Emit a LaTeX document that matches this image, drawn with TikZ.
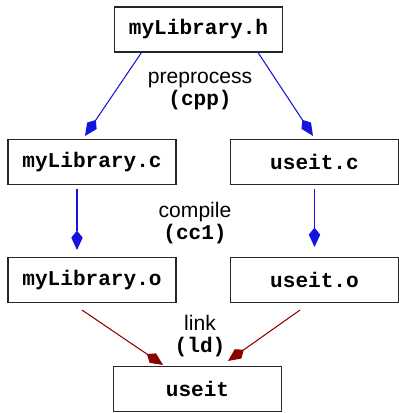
\documentclass[tikz,border=0pt]{standalone}
\usepackage{fontspec}
\setmainfont{Liberation Sans}
\setmonofont{Liberation Mono}
\usepackage{xcolor}
\usepackage{tikz}
\usetikzlibrary{positioning, arrows.meta}

\definecolor{ppblue}{RGB}{20,20,225}
\definecolor{linkred}{RGB}{140,0,0}

\begin{document}
\begin{tikzpicture}[
        every node/.style={font=\fontsize{12}{14}\selectfont},
        filebox/.style={draw=black!85, line width=0.6pt, minimum height=0.9cm, minimum width=3.36cm, align=center, font=\fontsize{12}{14}\selectfont\ttfamily\bfseries},
        flow/.style={-{Kite[length=11pt, width=6.5pt, inset=4pt]}, line width=0.6pt, ppblue},
        linkflow/.style={-{Kite[length=11pt, width=6.5pt, inset=4pt]}, line width=0.6pt, linkred},
        steplabel/.style={align=center, inner sep=0pt, font=\fontsize{12}{12.5}\selectfont}
    ]
    \useasboundingbox (0,0) rectangle (7.96,-8.26);

    % Source and object files
    \node[filebox] (libh) at (3.97, -0.59) {myLibrary.h};
    \node[filebox] (libc) at (1.84, -3.24) {myLibrary.c};
    \node[filebox] (usec) at (6.29, -3.24) {useit.c};
    \node[filebox] (libo) at (1.84, -5.60) {myLibrary.o};
    \node[filebox] (useo) at (6.29, -5.60) {useit.o};
    \node[filebox] (exe)  at (3.95, -7.78) {useit};

    % Step labels
    \node[steplabel] (pp)   at (4.00, -1.82) {preprocess\\\texttt{\textbf{(cpp)}}};
    \node[steplabel] (cc)   at (3.90, -4.46) {compile\\\texttt{\textbf{(cc1)}}};
    \node[steplabel] (ld)   at (4.00, -6.72) {link\\\texttt{\textbf{(ld)}}};

    % Preprocess
    \draw[flow] ([xshift=-1.14cm]libh.south) -- ([xshift=-0.14cm, yshift=0.06cm]libc.north);
    \draw[flow] ([xshift=1.19cm]libh.south) -- ([xshift=-0.03cm, yshift=0.06cm]usec.north);

    % Compile
    \draw[flow] ([xshift=-0.30cm, yshift=-0.08cm]libc.south) -- ([xshift=-0.30cm, yshift=0.14cm]libo.north);
    \draw[flow] ([yshift=-0.08cm]usec.south) -- ([yshift=0.2cm]useo.north);

    % Link
    \draw[linkflow] ([xshift=-0.20cm, yshift=-0.14cm]libo.south) -- ([xshift=-0.69cm, yshift=0.02cm]exe.north);
    \draw[linkflow] ([xshift=-0.29cm, yshift=-0.14cm]useo.south) -- ([xshift=0.61cm, yshift=0.10cm]exe.north);

\end{tikzpicture}
\end{document}
